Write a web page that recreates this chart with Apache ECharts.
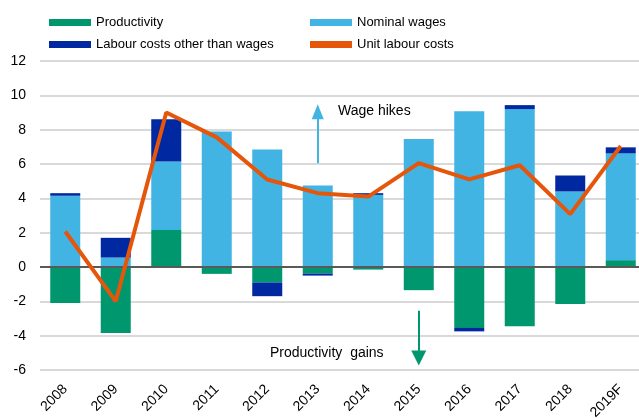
<!DOCTYPE html>
<html>
<head>
<meta charset="utf-8">
<script src="https://cdn.jsdelivr.net/npm/echarts@6/dist/echarts.min.js"></script>
<style>
  html, body { margin: 0; padding: 0; background: #fff; }
  #chart { width: 639px; height: 418px; }
</style>
</head>
<body>
<div id="chart"></div>
<script>
// data
var years = ['2008', '2009', '2010', '2011', '2012', '2013', '2014', '2015', '2016', '2017', '2018', '2019F'];
var productivity = [-2.1, -3.85, 2.15, -0.4, -0.9, -0.38, -0.15, -1.35, -3.55, -3.45, -2.15, 0.4];
var nominalWages = [4.15, 0.55, 4.0, 7.9, 6.85, 4.75, 4.2, 7.45, 9.08, 9.2, 4.4, 6.22];
var otherCosts = [0.15, 1.15, 2.45, 0, -0.8, -0.12, 0.1, 0, -0.2, 0.23, 0.93, 0.35];
var unitLabour = [2.07, -2.0, 9.0, 7.55, 5.1, 4.3, 4.1, 6.05, 5.1, 5.93, 3.08, 7.05];
var yTicks = [-6, 12, 2];

var green = '#00976F', light = '#41B4E4', dark = '#0028A0', orange = '#E5560B';
var font = 'Liberation Sans, Arial, sans-serif';

var chart = echarts.init(document.getElementById('chart'));

var option = {
  animation: false,
  textStyle: { fontFamily: font },
  legend: [
    {
      orient: 'vertical', left: 44, top: 11, itemGap: 9,
      itemWidth: 42, itemHeight: 7,
      textStyle: { fontSize: 13, color: '#000', fontFamily: font },
      data: [{ name: 'Productivity', icon: 'rect' }, { name: 'Labour costs other than wages', icon: 'rect' }]
    },
    {
      orient: 'vertical', left: 305, top: 11, itemGap: 9,
      itemWidth: 42, itemHeight: 7,
      textStyle: { fontSize: 13, color: '#000', fontFamily: font },
      data: [{ name: 'Nominal wages', icon: 'rect' }, { name: 'Unit labour costs', icon: 'rect', itemStyle: { color: orange } }]
    }
  ],
  grid: { left: 40, top: 61, bottom: 48, width: 606, outerBoundsMode: 'none', containLabel: false },
  xAxis: {
    type: 'category',
    data: years,
    axisLine: { show: false, onZero: false },
    axisTick: { show: false },
    axisLabel: { rotate: 45, fontSize: 14, color: '#000', margin: 17, fontFamily: font }
  },
  yAxis: {
    type: 'value',
    min: yTicks[0], max: yTicks[1], interval: yTicks[2],
    axisLine: { show: false },
    axisTick: { show: false },
    axisLabel: { fontSize: 14, color: '#000', margin: 14, fontFamily: font },
    splitLine: { lineStyle: { color: '#d9d9d9', width: 2 } }
  },
  series: [
    {
      name: 'Productivity', type: 'bar', stack: 'ulc', barWidth: 30,
      itemStyle: { color: green },
      data: productivity
    },
    {
      name: 'Nominal wages', type: 'bar', stack: 'ulc', barWidth: 30,
      itemStyle: { color: light },
      data: nominalWages
    },
    {
      name: 'Labour costs other than wages', type: 'bar', stack: 'ulc', barWidth: 30,
      itemStyle: { color: dark },
      data: otherCosts
    },
    {
      name: 'Unit labour costs', type: 'line', symbol: 'none', z: 5,
      lineStyle: { color: orange, width: 4 },
      itemStyle: { color: orange },
      data: unitLabour,
      markLine: {
        silent: true,
        symbol: 'none',
        label: { show: false },
        data: [
          { yAxis: 0, lineStyle: { color: '#595959', width: 2, type: 'solid' } },
          [
            { coord: ['2013', 6.05], symbol: 'none', lineStyle: { color: light, width: 2, type: 'solid' } },
            { coord: ['2013', 9.05], symbol: 'triangle', symbolSize: [12, 15] }
          ],
          [
            { coord: ['2015', -2.55], symbol: 'none', lineStyle: { color: green, width: 2, type: 'solid' } },
            { coord: ['2015', -5.3], symbol: 'triangle', symbolSize: [15, 15] }
          ]
        ]
      }
    }
  ],
  graphic: [
    { type: 'text', left: 338, top: 104, style: { text: 'Wage hikes', fontSize: 14, fill: '#000', fontFamily: font } },
    { type: 'text', left: 270, top: 346, style: { text: 'Productivity  gains', fontSize: 14, fill: '#000', fontFamily: font } }
  ]
};

chart.setOption(option);
</script>
</body>
</html>
